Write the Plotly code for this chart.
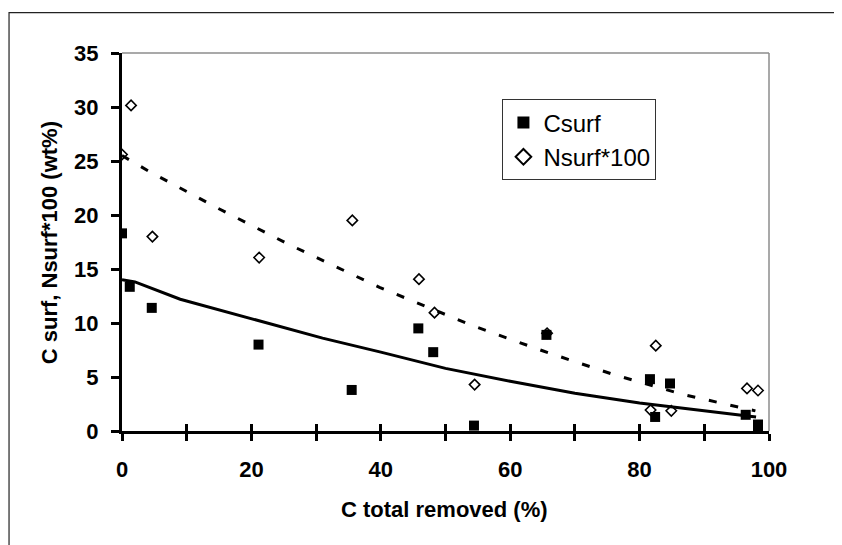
import plotly.graph_objects as go

# Scatter data
csurf_x = [0, 1.2, 4.6, 21.1, 35.5, 45.8, 48.1, 54.4, 65.6, 81.6, 82.4, 84.7, 96.4, 98.3, 98.3]
csurf_y = [18.3, 13.35, 11.4, 8.0, 3.8, 9.5, 7.3, 0.5, 8.9, 4.8, 1.3, 4.4, 1.5, 0.6, 0.05]

nsurf_x = [0, 1.4, 4.7, 21.2, 35.6, 45.9, 48.3, 54.5, 65.7, 82.5, 81.7, 84.9, 96.6, 98.3]
nsurf_y = [25.6, 30.15, 18.0, 16.06, 19.5, 14.06, 10.96, 4.3, 9.05, 7.9, 1.94, 1.87, 3.94, 3.75]

# Trend lines
trend_c_x = [0, 2, 9, 20, 31, 40, 50, 60, 70, 80, 90, 98]
trend_c_y = [14.0, 13.8, 12.2, 10.4, 8.6, 7.3, 5.8, 4.6, 3.5, 2.6, 1.9, 1.3]

trend_n_x = [0, 4.3, 14.9, 25.7, 39.8, 54.2, 65, 75.8, 86.6, 97.9]
trend_n_y = [25.5, 24.0, 20.6, 17.3, 13.3, 9.75, 7.43, 5.26, 3.4, 1.86]

x_tickvals = [0, 10, 20, 30, 40, 50, 60, 70, 80, 90, 100]
x_ticktext = ["0", "", "20", "", "40", "", "60", "", "80", "", "100"]
y_tickvals = [0, 5, 10, 15, 20, 25, 30, 35]

FONT = "Liberation Sans, Arial, sans-serif"

fig = go.Figure()

fig.add_trace(go.Scatter(
    x=nsurf_x, y=nsurf_y, mode="markers", name="Nsurf*100", legendrank=2,
    marker=dict(symbol="diamond", size=8, color="white",
                line=dict(color="black", width=1.6)),
))
fig.add_trace(go.Scatter(
    x=csurf_x, y=csurf_y, mode="markers", name="Csurf", legendrank=1,
    marker=dict(symbol="square", size=10, color="black",
                line=dict(color="black", width=0)),
))
fig.add_trace(go.Scatter(
    x=trend_c_x, y=trend_c_y, mode="lines", showlegend=False,
    line=dict(color="black", width=3), xaxis="x2",
))
fig.add_trace(go.Scatter(
    x=trend_n_x, y=trend_n_y, mode="lines", showlegend=False,
    line=dict(color="black", width=3, dash="8px,14px"), xaxis="x2",
))

axis_font = dict(family=FONT, size=22, color="black", weight="bold")

fig.update_layout(
    width=834, height=537,
    margin=dict(l=114, r=73, t=45, b=114),
    paper_bgcolor="white", plot_bgcolor="white",
    showlegend=True,
    legend=dict(
        x=0.588, y=0.877, xanchor="left", yanchor="top",
        bgcolor="white", bordercolor="#333333", borderwidth=1,
        font=dict(family=FONT, size=24, color="black"),
        itemsizing="constant", tracegroupgap=0,
    ),
    xaxis=dict(
        range=[0, 100], tickvals=x_tickvals, ticktext=x_ticktext,
        showline=True, linecolor="black", linewidth=3,
        ticks="outside", ticklen=7, tickwidth=3, tickcolor="black",
        showgrid=False, zeroline=False, tickfont=axis_font,
        ticklabelstandoff=10,
    ),
    xaxis2=dict(
        range=[0, 100], overlaying="x", anchor="y", side="bottom",
        tickvals=x_tickvals, showticklabels=False,
        ticks="inside", ticklen=7, tickwidth=3, tickcolor="black",
        showline=False, showgrid=False, zeroline=False,
    ),
    yaxis=dict(
        range=[0, 35], tickvals=y_tickvals,
        showline=True, linecolor="black", linewidth=3,
        ticks="outside", ticklen=8, tickwidth=3, tickcolor="black",
        showgrid=False, zeroline=False, tickfont=axis_font,
        ticklabelstandoff=8,
    ),
    shapes=[
        dict(type="line", xref="paper", yref="paper", x0=0, x1=1, y0=1, y1=1,
             line=dict(color="#8c8c8c", width=1.5)),
        dict(type="line", xref="paper", yref="paper", x0=1, x1=1, y0=0, y1=1,
             line=dict(color="#8c8c8c", width=1.5)),
        dict(type="rect", xref="paper", yref="paper",
             x0=-0.1746, x1=1.3, y0=-0.5, y1=1.1068,
             line=dict(color="#222222", width=1.2)),
    ],
    annotations=[
        dict(text="C total removed (%)", xref="paper", yref="paper",
             x=0.499, y=-0.207, showarrow=False, xanchor="center", yanchor="middle",
             font=axis_font),
        dict(text="C surf, Nsurf*100 (wt%)", xref="paper", yref="paper",
             x=-0.112, y=0.498, showarrow=False, xanchor="center", yanchor="middle",
             textangle=-90, font=axis_font),
    ],
)

fig.write_html("out.html")
